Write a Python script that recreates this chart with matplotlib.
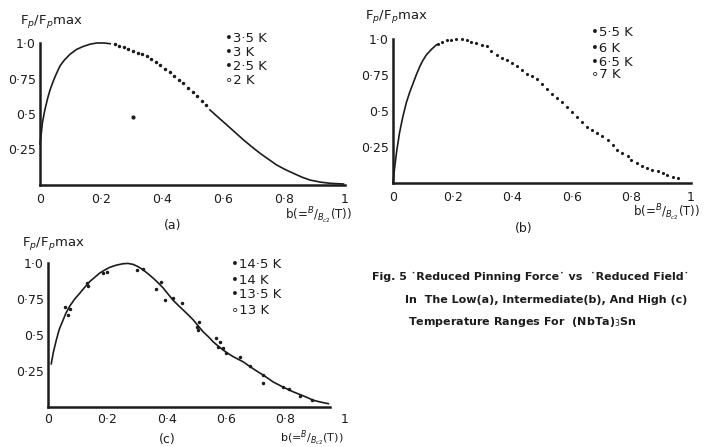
import numpy as np
import matplotlib
matplotlib.use("Agg")
import matplotlib.pyplot as plt

W, H = 720, 447
INK = "#1c1c1c"

# ---- data (b = B/Bc2, F = Fp/Fpmax) ----
# (a) low temperature
a_rise_b = [0.0, 0.003, 0.008, 0.016, 0.025, 0.033, 0.045, 0.055, 0.066, 0.08, 0.098,
            0.12, 0.142, 0.165, 0.186, 0.21, 0.23]
a_rise_f = [0.29, 0.34, 0.44, 0.53, 0.61, 0.67, 0.74, 0.79, 0.84, 0.88, 0.92,
            0.955, 0.976, 0.992, 1.0, 1.0, 0.995]
a_dot_b = [0.245, 0.26, 0.275, 0.29, 0.305, 0.32, 0.335, 0.35, 0.365, 0.38, 0.395,
           0.41, 0.425, 0.44, 0.455, 0.47, 0.485, 0.50, 0.515, 0.53, 0.545]
a_dot_f = [0.99, 0.98, 0.97, 0.96, 0.945, 0.93, 0.92, 0.905, 0.885, 0.865, 0.845,
           0.82, 0.795, 0.77, 0.74, 0.715, 0.685, 0.655, 0.625, 0.595, 0.56]
a_tail_b = [0.557, 0.585, 0.612, 0.64, 0.667, 0.694, 0.721, 0.75, 0.776, 0.803,
            0.831, 0.858, 0.885, 0.92, 0.951, 0.995]
a_tail_f = [0.529, 0.475, 0.424, 0.37, 0.318, 0.27, 0.224, 0.18, 0.141, 0.11,
            0.082, 0.056, 0.035, 0.02, 0.012, 0.007]
a_stray_b = [0.306]
a_stray_f = [0.478]
a_temps = ["3·5 K", "3 K", "2·5 K", "2 K"]

# (b) intermediate temperature
b_rise_b = [0.0, 0.003, 0.006, 0.013, 0.022, 0.033, 0.045, 0.056, 0.067, 0.078,
            0.09, 0.10, 0.112, 0.13, 0.146]
b_rise_f = [0.0, 0.06, 0.116, 0.23, 0.35, 0.46, 0.56, 0.63, 0.69, 0.75,
            0.81, 0.85, 0.89, 0.93, 0.96]
b_dot_b = [0.15, 0.165, 0.18, 0.195, 0.213, 0.23, 0.247, 0.263, 0.28, 0.297, 0.315,
           0.33, 0.348, 0.365, 0.382, 0.40, 0.416, 0.432, 0.449, 0.466, 0.483, 0.50,
           0.517, 0.533, 0.55, 0.567, 0.584, 0.60, 0.618, 0.635, 0.652, 0.668, 0.685,
           0.70, 0.72, 0.737, 0.753, 0.77, 0.787, 0.80, 0.82, 0.837, 0.854, 0.87,
           0.888, 0.905, 0.92, 0.94, 0.955]
b_dot_f = [0.965, 0.98, 0.99, 0.995, 1.0, 1.0, 0.99, 0.98, 0.97, 0.96, 0.95,
           0.92, 0.89, 0.87, 0.856, 0.83, 0.81, 0.785, 0.76, 0.74, 0.72, 0.685,
           0.65, 0.62, 0.59, 0.56, 0.53, 0.495, 0.46, 0.425, 0.39, 0.37, 0.35,
           0.325, 0.30, 0.265, 0.23, 0.21, 0.185, 0.16, 0.14, 0.12, 0.104, 0.092,
           0.08, 0.068, 0.058, 0.045, 0.035]
b_temps = ["5·5 K", "6 K", "6·5 K", "7 K"]

# (c) high temperature
c_fit_b = [0.011, 0.018, 0.028, 0.038, 0.05, 0.06, 0.073, 0.09, 0.107, 0.123, 0.14,
           0.157, 0.174, 0.19, 0.208, 0.23, 0.253, 0.27, 0.287, 0.303, 0.32, 0.337,
           0.354, 0.371, 0.388, 0.404, 0.42, 0.437, 0.455, 0.472, 0.489, 0.505, 0.522,
           0.54, 0.556, 0.573, 0.59, 0.607, 0.624, 0.64, 0.657, 0.673, 0.69, 0.707,
           0.725, 0.742, 0.758, 0.775, 0.79, 0.808, 0.826, 0.843, 0.86, 0.877, 0.893,
           0.918, 0.944]
c_fit_f = [0.30, 0.38, 0.465, 0.54, 0.60, 0.65, 0.70, 0.75, 0.79, 0.83, 0.87,
           0.90, 0.93, 0.95, 0.97, 0.985, 0.995, 0.997, 0.99, 0.975, 0.953, 0.925,
           0.895, 0.862, 0.826, 0.785, 0.744, 0.709, 0.674, 0.64, 0.605, 0.565, 0.523,
           0.488, 0.453, 0.423, 0.395, 0.371, 0.349, 0.332, 0.314, 0.291, 0.267, 0.244,
           0.221, 0.197, 0.174, 0.156, 0.14, 0.122, 0.105, 0.091, 0.077, 0.062, 0.047,
           0.034, 0.023]
c_pts_b = [0.056, 0.073, 0.067, 0.135, 0.13, 0.185, 0.20, 0.298, 0.32, 0.365, 0.382,
           0.393, 0.42, 0.45, 0.50, 0.506, 0.51, 0.567, 0.58, 0.573, 0.59, 0.60,
           0.646, 0.68, 0.725, 0.725, 0.79, 0.81, 0.85, 0.89]
c_pts_f = [0.693, 0.68, 0.64, 0.837, 0.86, 0.93, 0.94, 0.95, 0.958, 0.82, 0.865,
           0.744, 0.756, 0.72, 0.558, 0.535, 0.593, 0.477, 0.453, 0.419, 0.407, 0.372,
           0.349, 0.286, 0.221, 0.167, 0.14, 0.128, 0.074, 0.051]
c_temps = ["14·5 K", "14 K", "13·5 K", "13 K"]

x_ticks = [0, 0.2, 0.4, 0.6, 0.8, 1.0]
x_ticklabels = ["0", "0·2", "0·4", "0·6", "0·8", "1"]
y_ticks = [0.25, 0.5, 0.75, 1.0]
y_ticklabels = ["0·25", "0·5", "0·75", "1·0"]

caption = ["Fig. 5 ˙Reduced Pinning Force˙ vs  ˙Reduced Field˙",
           "In  The Low(a), Intermediate(b), And High (c)",
           "Temperature Ranges For  (NbTa)$_3$Sn"]

xlabel = r"b(=$^{B}/_{B_{c2}}$(T))"
ylabel = r"F$_p$/F$_p$max"

plt.rcParams["font.family"] = ["DejaVu Sans"]
fig = plt.figure(figsize=(7.2, 4.47), dpi=100)
fig.patch.set_facecolor("white")


def fx(x):
    return x / W


def fy(y):
    return 1 - y / H


def make_axes(x0, y0, xpx, ypx, xend=1.0, xpad=6):
    ax = fig.add_axes([fx(x0), fy(y0), xpx / W, ypx / H])
    ax.set_xlim(0, 1)
    ax.set_ylim(0, 1)
    ax.patch.set_alpha(0)
    for s in ["top", "right"]:
        ax.spines[s].set_visible(False)
    for s in ["left", "bottom"]:
        ax.spines[s].set_linewidth(1.8)
        ax.spines[s].set_color(INK)
    ax.spines["bottom"].set_bounds(0, xend)
    ax.set_xticks(x_ticks, x_ticklabels)
    ax.set_yticks(y_ticks, y_ticklabels)
    ax.tick_params(length=0, labelsize=9, colors=INK, pad=xpad)
    ax.tick_params(axis="y", pad=3)
    return ax


def legend(x, ys, labels, marks):
    for y, lab, m in zip(ys, labels, marks):
        fig.text(fx(x), fy(y), m + lab, fontsize=9.5, color=INK, va="center")


# ---- panel (a) ----
ax = make_axes(40, 185, 305, 142)
ax.plot(a_rise_b, a_rise_f, color=INK, lw=1.2, clip_on=False)
ax.plot(a_dot_b, a_dot_f, ".", color=INK, ms=3, clip_on=False)
ax.plot(a_tail_b, a_tail_f, color=INK, lw=1.2, clip_on=False)
ax.plot(a_stray_b, a_stray_f, ".", color=INK, ms=4)
fig.text(fx(20), fy(22), ylabel, fontsize=9.5, color=INK, va="center")
fig.text(fx(285), fy(216), xlabel, fontsize=8.5, color=INK, va="center")
fig.text(fx(173), fy(226), "(a)", fontsize=9, color=INK, ha="center", va="center")
legend(225, [39, 53, 66, 80], a_temps, ["•", "•", "•", "∘"])

# ---- panel (b) ----
ax = make_axes(393, 183, 298, 144)
ax.plot(b_rise_b, b_rise_f, color=INK, lw=1.2, clip_on=False)
ax.plot(b_dot_b, b_dot_f, ".", color=INK, ms=2.5, clip_on=False)
fig.text(fx(365), fy(17), ylabel, fontsize=9.5, color=INK, va="center")
fig.text(fx(633), fy(213), xlabel, fontsize=8.5, color=INK, va="center")
fig.text(fx(524), fy(228), "(b)", fontsize=9, color=INK, ha="center", va="center")
legend(591, [33, 48, 62, 75], b_temps, ["•", "•", "•", "∘"])

# ---- panel (c) ----
ax = make_axes(48, 407, 297, 144, xend=0.95, xpad=4)
ax.plot(c_fit_b, c_fit_f, color=INK, lw=1.2, clip_on=False)
ax.plot(c_pts_b, c_pts_f, ".", color=INK, ms=3, clip_on=False)
fig.text(fx(22), fy(243), ylabel, fontsize=9.5, color=INK, va="center")
fig.text(fx(280), fy(438), xlabel, fontsize=8, color=INK, va="center")
fig.text(fx(167), fy(440), "(c)", fontsize=9, color=INK, ha="center", va="center")
legend(231, [265, 281, 295, 310], c_temps, ["•", "•", "•", "∘"])

# ---- caption ----
for (x, y), line in zip([(372, 277), (405, 300), (408, 322)], caption):
    fig.text(fx(x), fy(y), line, fontsize=8, color=INK, va="center", fontweight="bold")

fig.savefig("out.png", dpi=100)
